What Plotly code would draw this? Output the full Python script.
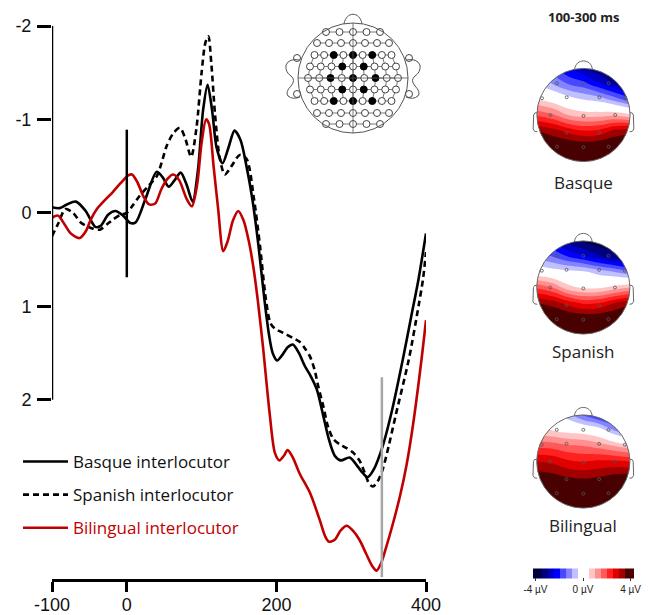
import numpy as np
import plotly.graph_objects as go

# Page body has an 8px margin: lay the figure out in page pixels and shift by it.
PAGE_W, PAGE_H = 650, 615
OFF = 8
W, H = PAGE_W - OFF, PAGE_H - OFF

# ---------------- ERP waveform data (ms, µV; negative plotted up) ----------------
t_basque = [-100, -90, -80, -68, -55, -42, -35, -25, -15, -5, 5, 12, 25, 40, 48, 56, 64, 72, 80, 88,
            95, 102, 108, 114, 120, 128, 136, 144, 152, 160, 168, 176, 184, 190, 195, 201, 208, 215,
            222, 230, 238, 246, 254, 262, 270, 278, 286, 298, 309, 316, 322, 330, 342, 355, 369,
            380, 390, 400]
v_basque = [-0.06, -0.05, -0.09, -0.12, -0.02, 0.15, 0.14, 0.02, -0.02, 0.03, 0.11, 0.10, -0.15,
            -0.44, -0.38, -0.28, -0.35, -0.43, -0.30, -0.12, -0.45, -1.10, -1.37, -1.10, -0.70,
            -0.53, -0.70, -0.88, -0.78, -0.50, -0.14, 0.35, 0.93, 1.30, 1.50, 1.58, 1.52, 1.44,
            1.41, 1.50, 1.64, 1.75, 1.89, 2.15, 2.42, 2.60, 2.65, 2.62, 2.72, 2.79, 2.83, 2.75,
            2.50, 2.10, 1.57, 1.12, 0.71, 0.22]

t_spanish = [-100, -92, -82, -72, -62, -54, -45, -36, -26, -18, -8, 0, 8, 17, 28, 40, 47, 53, 62,
             71, 78, 86, 93, 100, 105, 109, 113, 118, 124, 131, 140, 151, 160, 170, 178, 186, 192,
             198, 205, 213, 222, 231, 238, 245, 251, 256, 263, 269, 276, 285, 294, 303, 311, 318,
             324, 329, 335, 342, 350, 360, 377, 390, 396, 400]
v_spanish = [0.25, 0.12, -0.04, 0.00, 0.10, 0.14, 0.17, 0.18, 0.12, 0.07, 0.02, 0.00, -0.08, -0.18,
             -0.28, -0.39, -0.55, -0.71, -0.85, -0.91, -0.80, -0.60, -0.90, -1.50, -1.82, -1.89,
             -1.60, -1.05, -0.60, -0.41, -0.50, -0.62, -0.58, -0.15, 0.35, 0.93, 1.18, 1.24, 1.27,
             1.30, 1.34, 1.38, 1.45, 1.54, 1.68, 1.86, 2.08, 2.29, 2.42, 2.48, 2.52, 2.57, 2.65,
             2.78, 2.90, 2.93, 2.88, 2.75, 2.50, 2.15, 1.57, 1.00, 0.71, 0.42]

t_bilingual = [-100, -92, -85, -75, -63, -55, -48, -40, -30, -19, -8, 2, 7, 14, 22, 30, 38, 46, 54,
               62, 70, 80, 87, 94, 100, 106, 110, 116, 122, 129, 135, 142, 149, 156, 163, 169, 175,
               182, 191, 198, 204, 210, 215, 222, 231, 245, 258, 265, 270, 278, 286, 294, 302, 311,
               320, 328, 334, 340, 346, 355, 365, 374, 383, 394, 400]
v_bilingual = [0.05, 0.03, 0.10, 0.22, 0.27, 0.20, 0.07, -0.04, -0.13, -0.22, -0.32, -0.40, -0.41,
               -0.33, -0.18, -0.09, -0.10, -0.25, -0.36, -0.41, -0.35, -0.15, -0.07, -0.30, -0.75,
               -1.00, -0.95, -0.50, -0.05, 0.41, 0.30, 0.08, -0.02, 0.08, 0.30, 0.57, 0.93, 1.43,
               2.15, 2.57, 2.65, 2.60, 2.54, 2.62, 2.79, 3.00, 3.29, 3.46, 3.52, 3.50, 3.40, 3.35,
               3.40, 3.50, 3.65, 3.78, 3.83, 3.75, 3.60, 3.35, 3.04, 2.70, 2.25, 1.57, 1.15]

series_names = ["Basque interlocutor", "Spanish interlocutor", "Bilingual interlocutor"]
x_tickvals = [-100, 0, 200, 400]
x_ticktext = ["-100", "0", "200", "400"]
y_tickvals = [-2, -1, 0, 1, 2]
y_ticktext = ["-2", "-1", "0", "1", "2"]

onset_ms = 0
onset_span = [-0.89, 0.69]
peak_ms = 341
peak_span = [1.76, 3.90]

# ---------------- Topographic maps (µV on a coarse scalp grid, front row first) ----------------
topo_x = [-1.0, -2/3, -1/3, 0.0, 1/3, 2/3, 1.0]
topo_y = [1.0, 2/3, 1/3, 0.0, -1/3, -2/3, -1.0]
topo_basque = [
    [-1.2, -1.8, -2.5, -3.0, -3.4, -3.6, -3.6],
    [-0.6, -1.0, -1.5, -1.8, -2.4, -3.0, -3.4],
    [0.5, 0.2, -0.2, -0.5, -0.7, -1.2, -1.8],
    [1.9, 1.6, 1.0, 0.8, 0.8, 0.9, 0.6],
    [3.5, 3.2, 2.8, 2.5, 2.6, 3.1, 3.3],
    [4.2, 4.1, 4.0, 3.9, 4.0, 4.1, 4.2],
    [4.5, 4.5, 4.5, 4.5, 4.5, 4.5, 4.5],
]
topo_spanish = [
    [-2.0, -2.6, -3.2, -3.6, -3.9, -4.0, -4.0],
    [-1.2, -1.5, -2.0, -2.4, -2.9, -3.3, -3.6],
    [0.0, -0.2, -0.3, -0.4, -0.7, -1.0, -1.4],
    [1.9, 1.5, 0.7, 0.4, 0.4, 0.7, 1.0],
    [3.5, 3.3, 2.8, 2.4, 2.5, 3.0, 3.4],
    [4.3, 4.2, 4.1, 4.0, 4.0, 4.1, 4.3],
    [4.6, 4.6, 4.6, 4.6, 4.6, 4.6, 4.6],
]
topo_bilingual = [
    [0.2, -0.2, -0.8, -1.6, -2.2, -2.6, -2.8],
    [0.6, 0.5, 0.3, 0.2, -0.1, -1.0, -1.8],
    [1.9, 1.8, 1.6, 1.5, 1.3, 1.0, 0.7],
    [3.0, 2.9, 2.6, 2.5, 2.6, 2.6, 2.5],
    [3.8, 3.7, 3.5, 3.4, 3.5, 3.7, 3.8],
    [4.4, 4.4, 4.4, 4.4, 4.4, 4.4, 4.4],
    [4.6, 4.6, 4.6, 4.6, 4.6, 4.6, 4.6],
]
topo_names = ["Basque", "Spanish", "Bilingual"]
topo_title = "100-300 ms"
topo_elec_x = [-0.57, 0.0, 0.54, -0.89, -0.36, 0.34, 0.89, -0.71, 0.0, 0.68, -0.36, 0.34, -0.57, 0.0, 0.54]
topo_elec_y = [0.68, 0.68, 0.68, 0.36, 0.38, 0.38, 0.36, 0.0, -0.02, 0.0, -0.38, -0.38, -0.68, -0.69, -0.68]
cbar_tickvals = [-4, 0, 4]
cbar_ticktext = ["-4 µV", "0 µV", "4 µV"]
band_colors = ["#000040", "#000040", "#000080", "#0000c0", "#0000ff", "#4848ff", "#8484ff", "#c0c0ff",
               "#ffffff", "#ffffff", "#ffc4c4", "#ff9090", "#ff5a5a", "#ff2020", "#e00000", "#a00000",
               "#480000"]

# ---------------- Electrode montage inset ----------------
montage_row_dy = [-46, -35, -23, -11.5, 0, 11.5, 23, 35, 46]
montage_row_n = [5, 7, 9, 9, 9, 9, 9, 7, 5]
montage_row_hw = [27, 36, 38.5, 43, 45, 43, 38.5, 36, 27]
montage_filled = {2: [2, 4, 6], 3: [3, 5], 4: [2, 4, 6], 5: [3, 5], 6: [2, 4, 6]}
montage_rim = [(-56, -20), (-56, 16), (56, -20), (56, 16)]


def xdom(p0, p1):
    return [(p0 - OFF) / W, (p1 - OFF) / W]


def ydom(p0, p1):
    return [1 - (p1 - OFF) / H, 1 - (p0 - OFF) / H]


def px(p):
    return (p - OFF) / W


def py(p):
    return 1 - (p - OFF) / H


fig = go.Figure()

# ---- ERP lines ----
FONT = "Open Sans"
TICKFONT = "Liberation Sans"
fig.add_trace(go.Scatter(x=t_basque, y=v_basque, mode="lines", name=series_names[0],
                         legendgroup="a", line=dict(color="black", width=2.6, shape="spline", smoothing=0.8)))
fig.add_trace(go.Scatter(x=t_spanish, y=v_spanish, mode="lines", name=series_names[1],
                         legendgroup="b", line=dict(color="black", width=2.6, dash="6px,4px", shape="spline", smoothing=0.8)))
fig.add_trace(go.Scatter(x=t_bilingual, y=v_bilingual, mode="lines",
                         name="<span style='color:#c00000'>" + series_names[2] + "</span>",
                         legendgroup="c", line=dict(color="#c00000", width=2.6, shape="spline", smoothing=0.8)))

shapes = []
shapes.append(dict(type="line", xref="x", yref="y", x0=-100, x1=-100, y0=-2, y1=2,
                   line=dict(color="black", width=2.5)))
shapes.append(dict(type="line", xref="x", yref="y", x0=onset_ms, x1=onset_ms, y0=onset_span[0],
                   y1=onset_span[1], line=dict(color="black", width=2.5)))
shapes.append(dict(type="line", xref="x", yref="y", x0=peak_ms, x1=peak_ms, y0=peak_span[0],
                   y1=peak_span[1], line=dict(color="#a6a6a6", width=2.5)))

# ---- colorscale (stepped) ----
nstep = len(band_colors)
cscale = []
for j, c in enumerate(band_colors):
    cscale.append([j / nstep, c])
    cscale.append([(j + 1) / nstep, c])

R_PX = 46.6
HALF = 58
centers = [(583.5, 115), (583.3, 287.5), (583.3, 461.5)]
label_dy = [67, 64, 64]
L = HALF / R_PX
theta = np.linspace(0, 2 * np.pi, 121)
annotations = []
layout_axes = {}
for i, (zz, (cx, cy)) in enumerate(zip([topo_basque, topo_spanish, topo_bilingual], centers)):
    k = i + 2
    xa, ya = f"x{k}", f"y{k}"
    layout_axes[f"xaxis{k}"] = dict(domain=xdom(cx - HALF, cx + HALF), range=[-L, L], visible=False,
                                   anchor=ya, fixedrange=True)
    layout_axes[f"yaxis{k}"] = dict(domain=ydom(cy - HALF, cy + HALF), range=[-L, L], visible=False,
                                   anchor=xa, fixedrange=True)
    cb = None
    if i == 2:
        cb = dict(orientation="h", x=px(583), xanchor="center", y=py(582), yanchor="middle",
                  thickness=10, len=121, lenmode="pixels", tickvals=cbar_tickvals, ticktext=cbar_ticktext,
                  ticks="outside", ticklen=3, tickcolor="#333", outlinewidth=0,
                  tickfont=dict(family="Liberation Sans", size=10, color="#222"))
    fig.add_trace(go.Contour(x=topo_x, y=topo_y, z=zz, xaxis=xa, yaxis=ya, colorscale=cscale,
                             contours=dict(start=-4, end=4, size=0.5, coloring="fill", showlines=False),
                             line=dict(width=0, smoothing=1.3), showscale=(i == 2), colorbar=cb,
                             showlegend=False, hoverinfo="skip"))
    fig.add_trace(go.Scatter(x=topo_elec_x, y=topo_elec_y, xaxis=xa, yaxis=ya, mode="markers",
                             marker=dict(symbol="circle-open", size=3, color="#555", line=dict(width=0.8)),
                             showlegend=False, hoverinfo="skip"))
    # white mask outside the scalp
    p = f"M {-L},{-L} L {L},{-L} L {L},{L} L {-L},{L} Z M 1,0 "
    p += " ".join(f"L {np.cos(-a):.4f},{np.sin(-a):.4f}" for a in theta[1:]) + " Z"
    shapes.append(dict(type="path", xref=xa, yref=ya, path=p, fillcolor="white",
                       line=dict(width=0), layer="above"))
    shapes.append(dict(type="circle", xref=xa, yref=ya, x0=-1, x1=1, y0=-1, y1=1,
                       line=dict(color="#666", width=1), layer="above"))
    shapes.append(dict(type="path", xref=xa, yref=ya,
                       path="M -0.19,0.98 C -0.17,1.22 0.17,1.22 0.19,0.98",
                       line=dict(color="#666", width=1), layer="above"))
    for s in (-1, 1):
        shapes.append(dict(type="path", xref=xa, yref=ya,
                           path=(f"M {s*0.998},0.05 Q {s*1.06},0.06 {s*1.07},0.0 L {s*1.08},-0.3 "
                                 f"Q {s*1.06},-0.37 {s*0.99},-0.36"),
                           line=dict(color="#666", width=1), layer="above"))
    annotations.append(dict(xref="paper", yref="paper", x=px(cx), y=py(cy + label_dy[i]),
                            text=topo_names[i], showarrow=False, xanchor="center", yanchor="middle",
                            font=dict(family=FONT, size=17, color="#222")))

annotations.append(dict(xref="paper", yref="paper", x=px(583), y=py(17), text="<b>" + topo_title + "</b>",
                        showarrow=False, xanchor="center", yanchor="middle",
                        font=dict(family=FONT, size=13, color="#222")))

# ---- montage inset ----
mx, my = "x5", "y5"
layout_axes["xaxis5"] = dict(domain=xdom(283, 423), range=[-70, 70], visible=False, anchor=my, fixedrange=True)
layout_axes["yaxis5"] = dict(domain=ydom(8, 148), range=[-70, 70], visible=False, anchor=mx, fixedrange=True)
rows_xy = []
for r, (dy, n, hw) in enumerate(zip(montage_row_dy, montage_row_n, montage_row_hw)):
    xs = list(np.linspace(-hw, hw, n))
    rows_xy.append((xs, [-dy] * n))
shapes.append(dict(type="line", xref=mx, yref=my, x0=-55, x1=55, y0=0, y1=0, line=dict(color="#555", width=0.8)))
shapes.append(dict(type="line", xref=mx, yref=my, x0=0, x1=0, y0=-55, y1=55, line=dict(color="#555", width=0.8)))
for xs, ys in rows_xy:
    fig.add_trace(go.Scatter(x=xs, y=ys, xaxis=mx, yaxis=my, mode="lines",
                             line=dict(color="#555", width=0.8), showlegend=False, hoverinfo="skip"))
nine = [r for r in range(len(rows_xy)) if montage_row_n[r] == 9]
for c in range(9):
    fig.add_trace(go.Scatter(x=[rows_xy[r][0][c] for r in nine], y=[rows_xy[r][1][c] for r in nine],
                             xaxis=mx, yaxis=my, mode="lines", line=dict(color="#555", width=0.8),
                             showlegend=False, hoverinfo="skip"))
ox, oy, fx, fy = [], [], [], []
for r, (xs, ys) in enumerate(rows_xy):
    for c, (a, b) in enumerate(zip(xs, ys)):
        if c in montage_filled.get(r, []):
            fx.append(a); fy.append(b)
        else:
            ox.append(a); oy.append(b)
for a, b in montage_rim:
    ox.append(a); oy.append(-b)
fig.add_trace(go.Scatter(x=ox, y=oy, xaxis=mx, yaxis=my, mode="markers",
                         marker=dict(size=7, color="white", line=dict(color="#444", width=1)),
                         showlegend=False, hoverinfo="skip"))
fig.add_trace(go.Scatter(x=fx, y=fy, xaxis=mx, yaxis=my, mode="markers",
                         marker=dict(size=7, color="black", line=dict(color="black", width=1)),
                         showlegend=False, hoverinfo="skip"))
shapes.append(dict(type="circle", xref=mx, yref=my, x0=-55, x1=55, y0=-55, y1=55,
                   line=dict(color="#555", width=1)))
shapes.append(dict(type="path", xref=mx, yref=my, path="M -9,54 C -7,67 7,67 9,54",
                   line=dict(color="#555", width=1)))
for s in (-1, 1):
    shapes.append(dict(type="path", xref=mx, yref=my,
                       path=(f"M {s*53},18 Q {s*64},20 {s*67},13 Q {s*68},6 {s*62},2 "
                             f"Q {s*57},-2 {s*62},-8 Q {s*68},-14 {s*65},-18 Q {s*60},-22 {s*53},-19"),
                       line=dict(color="#555", width=1)))

fig.update_layout(
    width=W, height=H, margin=dict(l=0, r=0, t=0, b=0, autoexpand=False),
    paper_bgcolor="white", plot_bgcolor="rgba(0,0,0,0)",
    showlegend=True,
    legend=dict(x=px(18), y=py(444), xanchor="left", yanchor="top", bgcolor="rgba(0,0,0,0)",
                font=dict(family=FONT, size=17, color="#111"), tracegroupgap=8, itemwidth=45,
                itemclick=False, itemdoubleclick=False),
    xaxis=dict(domain=xdom(52, 426), range=[-100, 400], showgrid=False, zeroline=False,
               showline=True, linecolor="black", linewidth=2.5, ticks="outside", ticklen=10,
               tickwidth=2.5, tickcolor="black", tickvals=x_tickvals, ticktext=x_ticktext,
               ticklabelstandoff=-2,
               tickfont=dict(family=TICKFONT, size=18, color="#111"), anchor="y", fixedrange=True,
               automargin=False),
    yaxis=dict(domain=ydom(26, 579), range=[3.92, -2.0], showgrid=False, zeroline=False,
               showline=False, ticks="outside", ticklen=14, tickwidth=2.5, tickcolor="black",
               tickvals=y_tickvals, ticktext=y_ticktext, ticklabelstandoff=2,
               tickfont=dict(family=TICKFONT, size=18, color="#111"), anchor="x", fixedrange=True,
               automargin=False),
    shapes=shapes, annotations=annotations,
    **layout_axes,
)

fig.write_html("out.html")
